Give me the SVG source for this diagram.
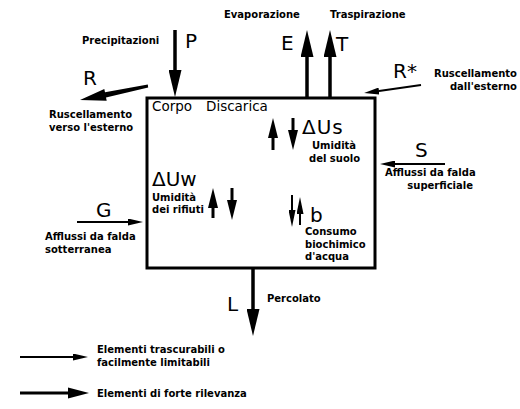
<svg xmlns="http://www.w3.org/2000/svg" width="520" height="409" viewBox="0 0 520 409">
<style>
.lbl{font-family:"DejaVu Sans","Liberation Sans",sans-serif;font-weight:bold;font-size:10px;fill:#000}
.big{font-family:"DejaVu Sans","Liberation Sans",sans-serif;font-size:20px;fill:#000}
.mid{font-family:"DejaVu Sans","Liberation Sans",sans-serif;font-size:13.5px;fill:#000}
.thick{stroke:#000;stroke-width:3.5;fill:none}
.thin{stroke:#000;stroke-width:2;fill:none}
.pair{stroke:#000;stroke-width:3;fill:none}
.pairs{stroke:#000;stroke-width:2;fill:none}
</style>
<defs>
<marker id="hThick" markerUnits="userSpaceOnUse" markerWidth="27" markerHeight="13" viewBox="0 -6.5 27 13" refX="0" refY="0" orient="auto"><path d="M0,-6.5 L27,0 L0,6.5 Z" fill="#000"/></marker>
<marker id="hThin" markerUnits="userSpaceOnUse" markerWidth="15" markerHeight="7" viewBox="0 -3.5 15 7" refX="0" refY="0" orient="auto"><path d="M0,-3.5 L15,0 L0,3.5 Z" fill="#000"/></marker>
<marker id="hPair" markerUnits="userSpaceOnUse" markerWidth="20" markerHeight="10" viewBox="0 -5 20 10" refX="0" refY="0" orient="auto"><path d="M0,-5 L20,0 L0,5 Z" fill="#000"/></marker>
<marker id="hPairS" markerUnits="userSpaceOnUse" markerWidth="17" markerHeight="7" viewBox="0 -3.5 17 7" refX="0" refY="0" orient="auto"><path d="M0,-3.5 L17,0 L0,3.5 Z" fill="#000"/></marker>
</defs>
<rect width="520" height="409" fill="#fff"/>

<g id="corpo-discarica">
<rect x="147" y="98" width="228" height="170" fill="none" stroke="#000" stroke-width="3"/>
<text class="mid" x="152" y="111">Corpo</text>
<text class="mid" x="206" y="111">Discarica</text>
</g>

<g id="connectors">
<line class="thick" x1="175" y1="30" x2="175" y2="70" marker-end="url(#hThick)"/>
<line class="thick" x1="307" y1="97" x2="307" y2="57" marker-end="url(#hThick)"/>
<line class="thick" x1="330" y1="97" x2="330" y2="57" marker-end="url(#hThick)"/>
<line class="thick" x1="253" y1="269" x2="253" y2="309" marker-end="url(#hThick)"/>
<polygon points="147.8,84.6 105,92.2 104.3,88.9 80,100 106.7,100.7 106,97.4 148.2,87.4" fill="#000"/>
<line class="thin" x1="421" y1="85" x2="379" y2="91" marker-end="url(#hThin)"/>
<line class="thin" x1="445" y1="164" x2="395" y2="164" marker-end="url(#hThin)"/>
<line class="thin" x1="77" y1="222" x2="128" y2="222" marker-end="url(#hThin)"/>
<line class="pair" x1="273" y1="150" x2="273" y2="138" marker-end="url(#hPair)"/>
<line class="pair" x1="293" y1="118" x2="293" y2="130" marker-end="url(#hPair)"/>
<line class="pair" x1="213" y1="218" x2="213" y2="208" marker-end="url(#hPair)"/>
<line class="pair" x1="232" y1="188" x2="232" y2="200" marker-end="url(#hPair)"/>
<line class="pairs" x1="292" y1="195" x2="292" y2="210" marker-end="url(#hPairS)"/>
<line class="pairs" x1="300" y1="225" x2="300" y2="214" marker-end="url(#hPairS)"/>
</g>

<g id="precipitazioni">
<text class="lbl" x="82" y="44">Precipitazioni</text>
<text class="big" x="185" y="48">P</text>
</g>
<g id="evaporazione">
<text class="lbl" x="224" y="18">Evaporazione</text>
<text class="big" x="281" y="50">E</text>
</g>
<g id="traspirazione">
<text class="lbl" x="330" y="18">Traspirazione</text>
<text class="big" x="336" y="51">T</text>
</g>
<g id="ruscellamento-esterno">
<text class="big" x="83" y="85">R</text>
<text class="lbl" x="49" y="118">Ruscellamento</text>
<text class="lbl" x="49" y="131">verso l'esterno</text>
</g>
<g id="ruscellamento-dall-esterno">
<text class="big" x="393" y="78">R*</text>
<text class="lbl" x="517" y="77" text-anchor="end">Ruscellamento</text>
<text class="lbl" x="517" y="90" text-anchor="end">dall'esterno</text>
</g>
<g id="umidita-suolo">
<text class="big" x="302" y="134" letter-spacing="1">ΔUs</text>
<text class="lbl" x="312" y="149">Umidità</text>
<text class="lbl" x="309" y="162">del suolo</text>
</g>
<g id="falda-superficiale">
<text class="big" x="415" y="157">S</text>
<text class="lbl" x="385" y="176">Afflussi da falda</text>
<text class="lbl" x="473" y="189" text-anchor="end">superficiale</text>
</g>
<g id="umidita-rifiuti">
<text class="big" x="152" y="186" font-size="21">ΔUw</text>
<text class="lbl" x="152" y="201">Umidità</text>
<text class="lbl" x="152" y="213">dei rifiuti</text>
</g>
<g id="falda-sotterranea">
<text class="big" x="96" y="217">G</text>
<text class="lbl" x="45" y="240">Afflussi da falda</text>
<text class="lbl" x="45" y="253">sotterranea</text>
</g>
<g id="consumo-biochimico">
<text class="big" x="310" y="222" font-size="22">b</text>
<text class="lbl" x="305" y="235">Consumo</text>
<text class="lbl" x="305" y="248">biochimico</text>
<text class="lbl" x="305" y="260">d'acqua</text>
</g>
<g id="percolato">
<text class="big" x="227" y="311" font-size="21">L</text>
<text class="lbl" x="267" y="302">Percolato</text>
</g>

<g id="legenda">
<line class="thin" x1="20" y1="357" x2="73" y2="357" marker-end="url(#hThin)"/>
<text class="lbl" x="97" y="353">Elementi trascurabili o</text>
<text class="lbl" x="97" y="366">facilmente limitabili</text>
<line x1="20" y1="393" x2="70" y2="393" stroke="#000" stroke-width="3"/>
<polygon points="68,387.5 89,393 68,398.5" fill="#000"/>
<text class="lbl" x="97" y="397">Elementi di forte rilevanza</text>
</g>
</svg>
